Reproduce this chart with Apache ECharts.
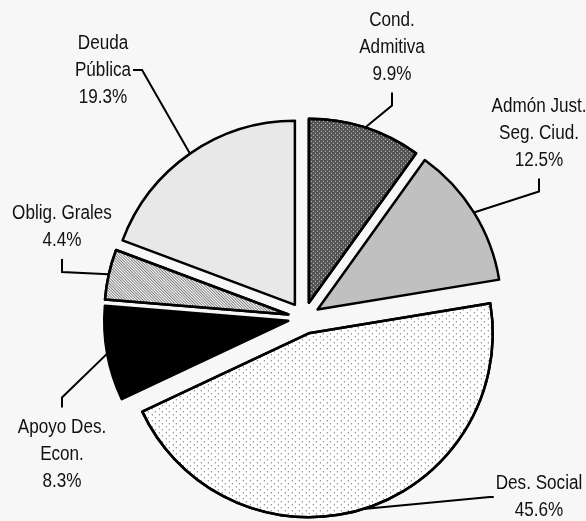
<!DOCTYPE html>
<html>
<head>
<meta charset="utf-8">
<script src="https://cdn.jsdelivr.net/npm/echarts@6/dist/echarts.min.js"></script>
<style>
    html, body { margin: 0; background: #f7f7f7; }
    #pie-chart { width: 586px; height: 521px; }
</style>
</head>
<body>
<div id="pie-chart"></div>
<script>
// 数据
const names = ['Cond.\nAdmitiva', 'Admón Just.\nSeg. Ciud.', 'Des. Social', 'Apoyo Des.\nEcon.', 'Oblig. Grales', 'Deuda\nPública'];
const shares = [9.9, 12.5, 45.6, 8.3, 4.4, 19.3];

// 填充样式
const fills = [
    { color: '#525252', decal: { symbol: 'rect', symbolSize: 1, color: '#d8d8d8', dashArrayX: [[1, 3], [0, 2, 1, 1]], dashArrayY: [1, 1] } },
    { color: '#c0c0c0' },
    { color: '#ffffff', decal: { symbol: 'rect', symbolSize: 1, color: '#454545', dashArrayX: [[1, 6], [0, 3, 1, 3]], dashArrayY: [1, 2] } },
    { color: '#000000' },
    { color: '#ffffff', decal: { symbol: 'rect', symbolSize: 1, color: '#808080', dashArrayX: [1, 0], dashArrayY: [1, 1], rotation: Math.PI / 4 } },
    { color: '#e8e8e8' }
];

// 标签位置 (label centre + side where the leader line ends)
const labelSpots = [
    { x: 392, y: 47, side: 'bottom' },
    { x: 539, y: 133, side: 'bottom' },
    { x: 539, y: 497, side: 'left' },
    { x: 62, y: 454, side: 'top' },
    { x: 62, y: 227, side: 'bottom' },
    { x: 103, y: 70, side: 'right' }
];

const center = [304, 318];
const radius = 184;
const explode = 16;
const font = '20px "Liberation Sans", Arial, sans-serif';
const squeeze = 0.855;   // narrow face
const lineH = 27;

const labelTexts = names.map((n, i) => n + '\n' + shares[i].toFixed(1) + '%');

// 文字宽度
const ctx = document.createElement('canvas').getContext('2d');
ctx.font = font;
const labelWidths = labelTexts.map(t => Math.max(...t.split('\n').map(l => ctx.measureText(l).width)) * squeeze);

function getPieChart() {
    const pieChart = echarts.init(document.querySelector('#pie-chart'));
    pieChart.setOption({
        backgroundColor: '#f7f7f7',
        animation: false,
        graphic: labelTexts.map((t, i) => ({
            type: 'text',
            x: labelSpots[i].x,
            y: labelSpots[i].y,
            scaleX: squeeze,
            silent: true,
            style: {
                text: t,
                font: font,
                fill: '#111',
                align: 'center',
                verticalAlign: 'middle',
                lineHeight: lineH,
            }
        })),
        series: [
            {
                type: 'pie',
                center: center,
                radius: radius,
                startAngle: 90,
                clockwise: true,
                selectedMode: 'multiple',
                selectedOffset: explode,
                silent: true,
                itemStyle: {
                    borderColor: '#000',
                    borderWidth: 2.5,
                },
                select: {
                    itemStyle: { borderColor: '#000', borderWidth: 2.5 },
                },
                label: { show: false },
                labelLine: { show: false },
                data: names.map((n, i) => ({
                    name: n,
                    value: shares[i],
                    selected: true,
                    itemStyle: fills[i],
                })),
            },
            {
                // leader lines only
                type: 'pie',
                center: center,
                radius: radius,
                startAngle: 90,
                clockwise: true,
                silent: true,
                avoidLabelOverlap: false,
                itemStyle: { color: 'transparent', borderWidth: 0 },
                label: {
                    show: true,
                    position: 'outside',
                    formatter: ' ',
                    fontSize: 1,
                },
                labelLine: {
                    show: true,
                    lineStyle: { color: '#000', width: 2 },
                },
                labelLayout: function (params) {
                    const i = params.dataIndex;
                    const s = labelSpots[i];
                    const w = labelWidths[i];
                    const h = labelTexts[i].split('\n').length * lineH;
                    const p = params.labelLinePoints[0];
                    const dx = p[0] - center[0], dy = p[1] - center[1];
                    const len = Math.sqrt(dx * dx + dy * dy);
                    const p0 = [p[0] + explode * dx / len, p[1] + explode * dy / len];
                    let end, elbow;
                    if (s.side === 'bottom') {
                        end = [s.x, s.y + h / 2 + 5];
                        elbow = [s.x, end[1] + 13];
                    } else if (s.side === 'top') {
                        end = [s.x, s.y - h / 2 - 6];
                        elbow = [s.x, end[1] - 10];
                    } else if (s.side === 'left') {
                        end = [s.x - w / 2 - 2, s.y];
                        elbow = [end[0] - 4, s.y];
                    } else {
                        end = [s.x + w / 2 + 2, s.y];
                        elbow = [end[0] + 9, s.y];
                    }
                    return {
                        x: end[0],
                        y: end[1],
                        labelLinePoints: [p0, elbow, end]
                    };
                },
                data: names.map((n, i) => ({ name: n, value: shares[i] })),
            }
        ]
    });
}
getPieChart();
</script>
</body>
</html>
